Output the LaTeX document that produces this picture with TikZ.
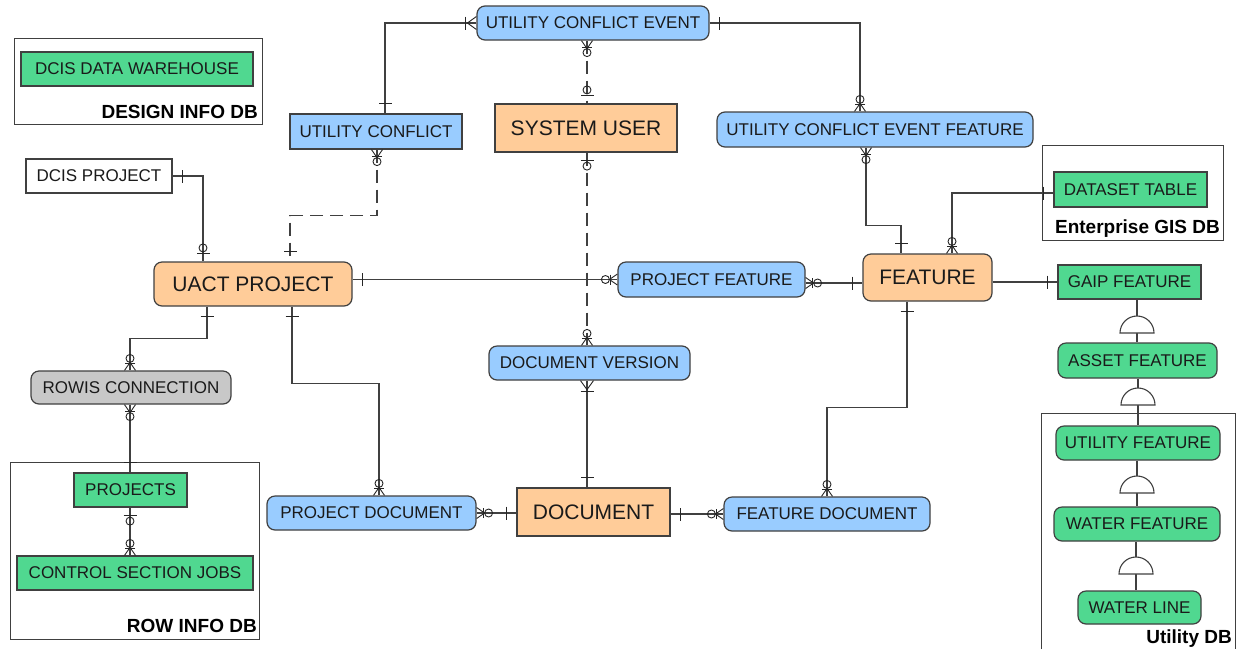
\documentclass[tikz,border=0pt]{standalone}
\usepackage{fontspec}
\setmainfont{Liberation Sans}
\usetikzlibrary{calc}
\definecolor{cblue}{HTML}{99CCFF}
\definecolor{corange}{HTML}{FFCC99}
\definecolor{cgreen}{HTML}{50D890}
\definecolor{cgray}{HTML}{C8C8C8}
\definecolor{lc}{HTML}{404040}
\definecolor{tc}{HTML}{1A1A1A}
\begin{document}
\begin{tikzpicture}[x=1pt,y=1pt,
  ent/.style={draw=lc, line width=1.2pt, text=tc, inner sep=0pt, font=\fontsize{17}{20}\selectfont},
  bluebox/.style={fill=cblue},
  orangebox/.style={fill=corange},
  greenbox/.style={fill=cgreen},
  graybox/.style={fill=cgray},
  whitebox/.style={fill=white},
  rbox/.style={rounded corners=8pt},
  big/.style={font=\fontsize{21}{24}\selectfont},
  grp/.style={draw=lc, line width=0.9pt},
  grplabel/.style={font=\bfseries\fontsize{19}{21}\selectfont, text=black, inner sep=0pt},
  conn/.style={draw=lc, line width=1.1pt},
  dashconn/.style={conn, dash pattern=on 13pt off 7pt},
  mkl/.style={draw=black!85, line width=0.9pt},
  mkone/.pic={\draw[mkl] (10,-6.5)--(10,6.5);},
  mkzone/.pic={\draw[mkl] (8,-6.5)--(8,6.5); \draw[mkl] (13.5,0) circle[radius=4];},
  mkzmany/.pic={\draw[mkl] (0,-5.5)--(8,0)--(0,5.5); \draw[mkl] (6.5,-5)--(6.5,5); \draw[mkl] (12,0) circle[radius=4];},
  mkomany/.pic={\draw[mkl] (0,-6.5)--(9,0)--(0,6.5); \draw[mkl] (11,-6.5)--(11,6.5);},
  subt/.pic={\draw[conn, fill=white] (-17,0) arc[start angle=180,end angle=0,radius=17] -- cycle;},
]
\fill[white] (0,0) rectangle (1239,-649);
\useasboundingbox (0,0) rectangle (1239,-649);

% group boxes
\node[grp, minimum width=248pt, minimum height=86pt] (gdesign) at (138,-81) {};
\node[grplabel, anchor=base east] (ldesign) at (258,-118) {DESIGN INFO DB};
\node[grp, minimum width=181pt, minimum height=95pt] (ggis) at (1132.5,-193) {};
\node[grplabel, anchor=base east] (lgis) at (1220,-233) {Enterprise GIS DB};
\node[grp, minimum width=249pt, minimum height=177pt] (grow) at (134.5,-550.5) {};
\node[grplabel, anchor=base east] (lrow) at (257,-632) {ROW INFO DB};
\draw[grp] (1041,-649) -- (1041,-413) -- (1235,-413) -- (1235,-649);
\node[grplabel, anchor=base east] (lutil) at (1232,-643) {Utility DB};

% entities
\node[ent, greenbox, minimum width=232pt, minimum height=34pt] (dw) at (137,-69) {DCIS DATA WAREHOUSE};
\node[ent, whitebox, minimum width=146pt, minimum height=34pt] (dcis) at (99,-176) {DCIS PROJECT};
\node[ent, orangebox, rbox, big, minimum width=198pt, minimum height=44pt] (uact) at (253,-284) {UACT PROJECT};
\node[ent, bluebox, minimum width=172pt, minimum height=35pt] (uc) at (376,-131.5) {UTILITY CONFLICT};
\node[ent, bluebox, rbox, minimum width=232pt, minimum height=34pt] (uce) at (593,-23) {UTILITY CONFLICT EVENT};
\node[ent, orangebox, big, minimum width=182pt, minimum height=48pt] (su) at (586,-128) {SYSTEM USER};
\node[ent, bluebox, rbox, minimum width=316pt, minimum height=35pt] (ucef) at (875,-129.5) {UTILITY CONFLICT EVENT FEATURE};
\node[ent, greenbox, minimum width=153pt, minimum height=35pt] (dt) at (1130.5,-189.5) {DATASET TABLE};
\node[ent, orangebox, rbox, big, minimum width=129pt, minimum height=47pt] (feat) at (927.5,-277.5) {FEATURE};
\node[ent, bluebox, rbox, minimum width=187pt, minimum height=35pt] (pf) at (711.5,-279.5) {PROJECT FEATURE};
\node[ent, greenbox, minimum width=143pt, minimum height=34pt] (gaip) at (1129.5,-282) {GAIP FEATURE};
\node[ent, greenbox, rbox, minimum width=159pt, minimum height=35pt] (asset) at (1137.5,-360.5) {ASSET FEATURE};
\node[ent, greenbox, rbox, minimum width=164pt, minimum height=34pt] (uf) at (1138,-443) {UTILITY FEATURE};
\node[ent, greenbox, rbox, minimum width=166pt, minimum height=34pt] (wf) at (1137,-524) {WATER FEATURE};
\node[ent, greenbox, rbox, minimum width=123pt, minimum height=33pt] (wl) at (1139.5,-607.5) {WATER LINE};
\node[ent, bluebox, rbox, minimum width=201pt, minimum height=34pt] (dv) at (589.5,-363) {DOCUMENT VERSION};
\node[ent, orangebox, big, minimum width=153pt, minimum height=48pt] (doc) at (593.5,-512) {DOCUMENT};
\node[ent, bluebox, rbox, minimum width=209pt, minimum height=34pt] (pd) at (371.5,-513) {PROJECT DOCUMENT};
\node[ent, bluebox, rbox, minimum width=206pt, minimum height=34pt] (fd) at (827,-514) {FEATURE DOCUMENT};
\node[ent, graybox, rbox, minimum width=200pt, minimum height=33pt] (rowis) at (131,-387.5) {ROWIS CONNECTION};
\node[ent, greenbox, minimum width=113pt, minimum height=34pt] (proj) at (130.5,-490) {PROJECTS};
\node[ent, greenbox, minimum width=236pt, minimum height=34pt] (csj) at (135,-573) {CONTROL SECTION JOBS};

% connectors
\coordinate (e1a) at (uce.west);
\coordinate (e1b) at ($(uc.north)+(9,0)$);
\draw[conn] (e1a) -| (e1b);
\pic[rotate=180] at (e1a) {mkomany};
\pic[rotate=90] at (e1b) {mkone};

\coordinate (e2a) at (uce.east);
\coordinate (e2b) at ($(ucef.north)+(-15,0)$);
\draw[conn] (e2a) -| (e2b);
\pic at (e2a) {mkone};
\pic[rotate=90] at (e2b) {mkzmany};

\coordinate (e3a) at ($(uce.south)+(-6,0)$);
\coordinate (e3b) at ($(su.north)+(1,0)$);
\draw[dashconn] (e3a) -- (e3b);
\pic[rotate=-90] at (e3a) {mkzmany};
\pic[rotate=90] at (e3b) {mkzone};

\coordinate (e4a) at ($(uc.south)+(1,0)$);
\coordinate (e4b) at ($(uact.north)+(37,0)$);
\draw[dashconn] (e4a) -- ++(0,-66) -| (e4b);
\pic[rotate=-90] at (e4a) {mkzmany};
\pic[rotate=90] at (e4b) {mkone};

\coordinate (e5a) at (dcis.east);
\coordinate (e5b) at ($(uact.north)+(-50,0)$);
\draw[conn] (e5a) -| (e5b);
\pic at (e5a) {mkone};
\pic[rotate=90] at (e5b) {mkzone};

\coordinate (e6a) at (uact.east |- pf.west);
\coordinate (e6b) at (pf.west);
\draw[conn] (e6a) -- (e6b);
\pic at (e6a) {mkone};
\pic[rotate=180] at (e6b) {mkzmany};

\coordinate (e7a) at ($(pf.east)+(0,-3.5)$);
\coordinate (e7b) at (feat.west |- e7a);
\draw[conn] (e7a) -- (e7b);
\pic at (e7a) {mkzmany};
\pic[rotate=180] at (e7b) {mkone};

\coordinate (e8a) at ($(su.south)+(1,0)$);
\coordinate (e8b) at (dv.north -| e8a);
\draw[dashconn] (e8a) -- (e8b);
\pic[rotate=-90] at (e8a) {mkzone};
\pic[rotate=90] at (e8b) {mkzmany};

\coordinate (e9a) at (dv.south -| e8a);
\coordinate (e9b) at (doc.north -| e8a);
\draw[conn] (e9a) -- (e9b);
\pic[rotate=-90] at (e9a) {mkomany};
\pic[rotate=90] at (e9b) {mkone};

\coordinate (e10a) at ($(uact.south)+(39,0)$);
\coordinate (e10b) at ($(pd.north)+(7.5,0)$);
\draw[conn] (e10a) -- ++(0,-77) -| (e10b);
\pic[rotate=-90] at (e10a) {mkone};
\pic[rotate=90] at (e10b) {mkzmany};

\coordinate (e11a) at ($(uact.south)+(-46,0)$);
\coordinate (e11b) at ($(rowis.north)+(-1,0)$);
\draw[conn] (e11a) -- ++(0,-32) -| (e11b);
\pic[rotate=-90] at (e11a) {mkone};
\pic[rotate=90] at (e11b) {mkzmany};

\coordinate (e12a) at (rowis.south -| e11b);
\coordinate (e12b) at (proj.north -| e11b);
\draw[conn] (e12a) -- (e12b);
\pic[rotate=-90] at (e12a) {mkzmany};
\pic[rotate=90] at (e12b) {mkone};

\coordinate (e13a) at (proj.south -| e11b);
\coordinate (e13b) at (csj.north -| e11b);
\draw[conn] (e13a) -- (e13b);
\pic[rotate=-90] at (e13a) {mkzone};
\pic[rotate=90] at (e13b) {mkzmany};

\coordinate (e14a) at (pd.east);
\coordinate (e14b) at (doc.west |- pd.east);
\draw[conn] (e14a) -- (e14b);
\pic at (e14a) {mkzmany};
\pic[rotate=180] at (e14b) {mkone};

\coordinate (e15a) at (doc.east |- fd.west);
\coordinate (e15b) at (fd.west);
\draw[conn] (e15a) -- (e15b);
\pic at (e15a) {mkone};
\pic[rotate=180] at (e15b) {mkzmany};

\coordinate (e16a) at ($(feat.south)+(-20.5,0)$);
\coordinate (e16b) at (fd.north);
\draw[conn] (e16a) -- ++(0,-106) -| (e16b);
\pic[rotate=-90] at (e16a) {mkone};
\pic[rotate=90] at (e16b) {mkzmany};

\coordinate (e17a) at ($(ucef.south)+(-9,0)$);
\coordinate (e17b) at ($(feat.north)+(-26.5,0)$);
\draw[conn] (e17a) -- ++(0,-78) -| (e17b);
\pic[rotate=-90] at (e17a) {mkzmany};
\pic[rotate=90] at (e17b) {mkone};

\coordinate (e18a) at ($(dt.west)+(0,-3.5)$);
\coordinate (e18b) at ($(feat.north)+(24.5,0)$);
\draw[conn] (e18a) -| (e18b);
\pic[rotate=180] at (e18a) {mkone};
\pic[rotate=90] at (e18b) {mkzmany};

\coordinate (e19a) at (feat.east |- gaip.west);
\coordinate (e19b) at (gaip.west);
\draw[conn] (e19a) -- (e19b);
\pic[rotate=180] at (e19b) {mkone};

% subtype symbols
\coordinate (h1) at (1137,-333);
\coordinate (h2) at (1138,-405);
\coordinate (h3) at (1137,-493);
\coordinate (h4) at (1136,-574);
\draw[conn] (gaip.south -| h1) -- ($(h1)+(0,17)$);
\draw[conn] (h1) -- (asset.north -| h1);
\draw[conn] (asset.south -| h2) -- ($(h2)+(0,17)$);
\draw[conn] (h2) -- (uf.north -| h2);
\draw[conn] (uf.south -| h3) -- ($(h3)+(0,17)$);
\draw[conn] (h3) -- (wf.north -| h3);
\draw[conn] (wf.south -| h4) -- ($(h4)+(0,17)$);
\draw[conn] (h4) -- (wl.north -| h4);
\pic at (h1) {subt};
\pic at (h2) {subt};
\pic at (h3) {subt};
\pic at (h4) {subt};
\end{tikzpicture}
\end{document}
